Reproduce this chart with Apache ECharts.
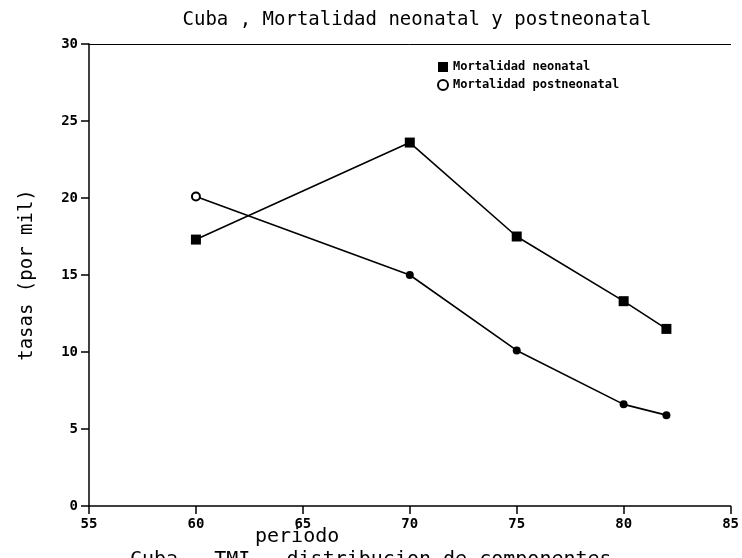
<!DOCTYPE html>
<html>
<head>
<meta charset="utf-8">
<script src="https://cdn.jsdelivr.net/npm/echarts@6/dist/echarts.min.js"></script>
<style>
  html, body { margin: 0; padding: 0; background: #fff; }
  #main { width: 742px; height: 558px; }
</style>
</head>
<body>
<div id="main"></div>
<script type="text/javascript">
// datos
var periodos = [60, 70, 75, 80, 82];
var neonatal = [17.3, 23.6, 17.5, 13.3, 11.5];
var postneonatal = [20.1, 15.0, 10.1, 6.6, 5.9];
var serieNombres = ['Mortalidad neonatal', 'Mortalidad postneonatal'];

var mono = '"DejaVu Sans Mono", monospace';

function pares(ys) {
  var out = [];
  for (var i = 0; i < periodos.length; i++) {
    out.push([periodos[i], ys[i]]);
  }
  return out;
}

var postData = pares(postneonatal);
// el primer punto postneonatal es hueco
postData[0] = {value: postData[0], itemStyle: {color: '#fff', borderColor: '#000', borderWidth: 2}};

var chart = echarts.init(document.getElementById('main'));

var option = {
  animation: false,
  backgroundColor: '#fff',
  title: {
    text: 'Cuba , Mortalidad neonatal y postneonatal',
    left: 412,
    top: 6,
    textAlign: 'center',
    textStyle: {fontFamily: mono, fontWeight: 'normal', fontSize: 19, color: '#000'}
  },
  legend: {
    left: 432,
    top: 56,
    orient: 'vertical',
    itemGap: 6,
    itemWidth: 10,
    itemHeight: 10,
    textStyle: {fontFamily: mono, fontWeight: 'bold', fontSize: 12, color: '#000'},
    data: [
      {name: serieNombres[0], icon: 'rect', itemStyle: {color: '#000'}},
      {name: serieNombres[1], icon: 'circle', itemStyle: {color: '#fff', borderColor: '#000', borderWidth: 2}}
    ]
  },
  grid: {left: 89, right: 5, top: 44, bottom: 52},
  xAxis: [{
    type: 'value',
    min: 55,
    max: 85,
    interval: 5,
    axisLine: {lineStyle: {color: '#000', width: 1.5}},
    axisTick: {length: 8, lineStyle: {color: '#000', width: 1.5}},
    axisLabel: {fontFamily: mono, fontWeight: 'bold', fontSize: 14, color: '#000', margin: 11},
    splitLine: {show: false}
  }, {
    type: 'value',
    position: 'top',
    min: 55,
    max: 85,
    axisLine: {show: true, onZero: false, lineStyle: {color: '#000', width: 1}},
    axisTick: {show: false},
    axisLabel: {show: false},
    splitLine: {show: false}
  }],
  yAxis: {
    type: 'value',
    min: 0,
    max: 30,
    interval: 5,
    name: 'tasas (por mil)',
    nameLocation: 'middle',
    nameGap: 52,
    nameTextStyle: {fontFamily: mono, fontSize: 19, color: '#000'},
    axisLine: {show: true, lineStyle: {color: '#000', width: 1.5}},
    axisTick: {show: true, length: 8, lineStyle: {color: '#000', width: 1.5}},
    axisLabel: {fontFamily: mono, fontWeight: 'bold', fontSize: 14, color: '#000', margin: 11},
    splitLine: {show: false}
  },
  graphic: [
    {type: 'text', left: 255, top: 527,
     style: {text: 'periodo', font: '20px ' + mono, fill: '#000'}},
    {type: 'text', left: 130, top: 550,
     style: {text: 'Cuba , TMI , distribucion de componentes', font: '20px ' + mono, fill: '#000'}}
  ],
  series: [
    {
      name: serieNombres[0],
      type: 'line',
      data: pares(neonatal),
      symbol: 'rect',
      symbolSize: 10,
      lineStyle: {color: '#000', width: 1.6},
      itemStyle: {color: '#000'}
    },
    {
      name: serieNombres[1],
      type: 'line',
      data: postData,
      symbol: 'circle',
      symbolSize: 8,
      lineStyle: {color: '#000', width: 1.6},
      itemStyle: {color: '#000'}
    }
  ]
};

chart.setOption(option);
</script>
</body>
</html>
